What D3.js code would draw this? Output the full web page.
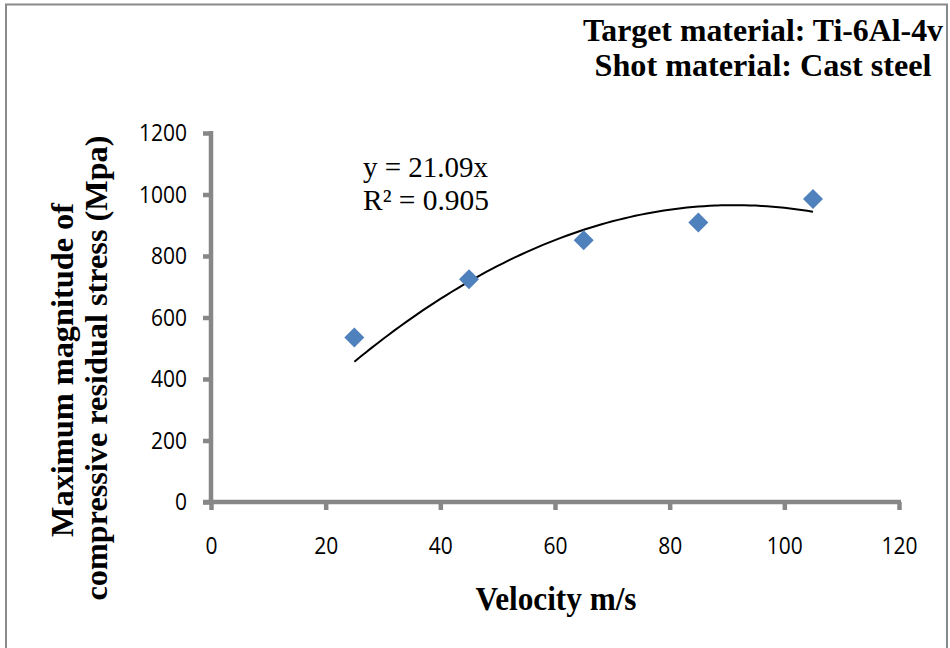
<!DOCTYPE html>
<html>
<head>
<meta charset="utf-8">
<script src="https://cdn.jsdelivr.net/npm/d3@7"></script>
<style>
  html, body { margin: 0; padding: 0; background: #fff; }
  svg { display: block; }
</style>
</head>
<body>
<svg id="chart" width="950" height="648"></svg>
<script>
// ---- data ----
const velocity = [25, 45, 65, 85, 105];
const stress = [535, 724, 851, 909, 985];
const xTickValues = [0, 20, 40, 60, 80, 100, 120];
const yTickValues = [0, 200, 400, 600, 800, 1000, 1200];
const titleLines = ["Target material: Ti-6Al-4v", "Shot material: Cast steel"];
const equationLines = ["y = 21.09x", "R\u00B2 = 0.905"];
const xAxisTitle = "Velocity m/s";
const yAxisTitleLines = ["Maximum magnitude of", "compressive residual stress (Mpa)"];

// ---- layout ----
const svg = d3.select("#chart");
const plot = { left: 211, right: 899, top: 133, bottom: 502 };
const axisColor = "#878787";
const serif = "'Liberation Serif', 'Times New Roman', serif";
const sans = "'Open Sans', 'Liberation Sans', sans-serif";

// outer frame
svg.append("rect")
  .attr("x", 6).attr("y", 4.5)
  .attr("width", 941).attr("height", 720)
  .attr("fill", "none").attr("stroke", "#8a8a8a").attr("stroke-width", 2);

const x = d3.scaleLinear().domain([0, 120]).range([plot.left, plot.right]);
const y = d3.scaleLinear().domain([0, 1200]).range([plot.bottom, plot.top]);

// axes
const xAxis = svg.append("g")
  .attr("transform", `translate(0,${plot.bottom})`)
  .call(d3.axisBottom(x).tickValues(xTickValues).tickFormat(d3.format("d"))
    .tickSize(8).tickSizeOuter(0).tickPadding(27));
const yAxis = svg.append("g")
  .attr("transform", `translate(${plot.left},0)`)
  .call(d3.axisLeft(y).tickValues(yTickValues).tickFormat(d3.format("d"))
    .tickSize(8).tickSizeOuter(0).tickPadding(16));

[xAxis, yAxis].forEach(g => {
  g.select(".domain").attr("stroke", axisColor).attr("stroke-width", 4.5);
  g.selectAll(".tick line").attr("stroke", axisColor).attr("stroke-width", 4.5);
  g.selectAll(".tick text")
    .attr("fill", "#000")
    .style("font-family", sans)
    .style("font-size", "24px")
    .attr("textLength", d => String(d).length * 12)
    .attr("lengthAdjust", "spacingAndGlyphs");
});
// extend domains so corner ticks join cleanly
xAxis.select(".domain").attr("d", `M${x(0) - 8},0H${x(120) + 2}`);
yAxis.select(".domain").attr("d", `M0,${y(1200) - 2}V${y(0) + 2}`);
xAxis.selectAll(".tick text").attr("dy", "0.71em");

// trendline: least-squares quadratic through the origin (y = a x^2 + b x)
function fitQuadNoIntercept(xs, ys) {
  let s4 = 0, s3 = 0, s2 = 0, sx2y = 0, sxy = 0;
  xs.forEach((xi, i) => {
    const yi = ys[i];
    s4 += xi ** 4; s3 += xi ** 3; s2 += xi ** 2;
    sx2y += xi * xi * yi; sxy += xi * yi;
  });
  const det = s4 * s2 - s3 * s3;
  const a = (sx2y * s2 - s3 * sxy) / det;
  const b = (s4 * sxy - s3 * sx2y) / det;
  return { a, b };
}
const fit = fitQuadNoIntercept(velocity, stress);
const xMin = d3.min(velocity), xMax = d3.max(velocity);
const trendPts = d3.range(0, 81).map(i => {
  const xv = xMin + (xMax - xMin) * i / 80;
  return [xv, fit.a * xv * xv + fit.b * xv];
});
svg.append("path")
  .datum(trendPts)
  .attr("fill", "none")
  .attr("stroke", "#000")
  .attr("stroke-width", 2)
  .attr("d", d3.line().x(d => x(d[0])).y(d => y(d[1])).curve(d3.curveMonotoneX));

// markers (diamonds)
const diamond = d3.symbol().type(d3.symbolSquare).size(200);
svg.append("g").selectAll("path")
  .data(velocity.map((v, i) => ({ v, s: stress[i] })))
  .join("path")
  .attr("d", diamond)
  .attr("transform", d => `translate(${x(d.v)},${y(d.s)}) rotate(45)`)
  .attr("fill", "#4F81BD");

// equation label
const eqBaselines = [177, 210];
const eqLengths = [125, 126];
svg.append("g").selectAll("text")
  .data(equationLines)
  .join("text")
  .attr("x", 363)
  .attr("y", (d, i) => eqBaselines[i])
  .attr("textLength", (d, i) => eqLengths[i])
  .attr("lengthAdjust", "spacingAndGlyphs")
  .style("font-family", serif)
  .style("font-size", "30px")
  .attr("fill", "#000")
  .text(d => d);

// title
const titleBaselines = [41, 76];
const titleLengths = [360, 337];
svg.append("g").selectAll("text")
  .data(titleLines)
  .join("text")
  .attr("x", 763)
  .attr("y", (d, i) => titleBaselines[i])
  .attr("text-anchor", "middle")
  .attr("textLength", (d, i) => titleLengths[i])
  .attr("lengthAdjust", "spacingAndGlyphs")
  .style("font-family", serif)
  .style("font-weight", "bold")
  .style("font-size", "32px")
  .attr("fill", "#000")
  .text(d => d);

// x axis title
svg.append("text")
  .attr("x", 556).attr("y", 610)
  .attr("text-anchor", "middle")
  .attr("textLength", 161)
  .attr("lengthAdjust", "spacingAndGlyphs")
  .style("font-family", serif)
  .style("font-weight", "bold")
  .style("font-size", "33px")
  .attr("fill", "#000")
  .text(xAxisTitle);

// y axis title (two rotated lines)
const yTitlePos = [{ bx: 73, cy: 370, len: 334 }, { bx: 107, cy: 368, len: 465 }];
svg.append("g").selectAll("text")
  .data(yAxisTitleLines)
  .join("text")
  .attr("transform", (d, i) => `translate(${yTitlePos[i].bx},${yTitlePos[i].cy}) rotate(-90)`)
  .attr("text-anchor", "middle")
  .attr("textLength", (d, i) => yTitlePos[i].len)
  .attr("lengthAdjust", "spacingAndGlyphs")
  .style("font-family", serif)
  .style("font-weight", "bold")
  .style("font-size", "31px")
  .attr("fill", "#000")
  .text(d => d);
</script>
</body>
</html>
